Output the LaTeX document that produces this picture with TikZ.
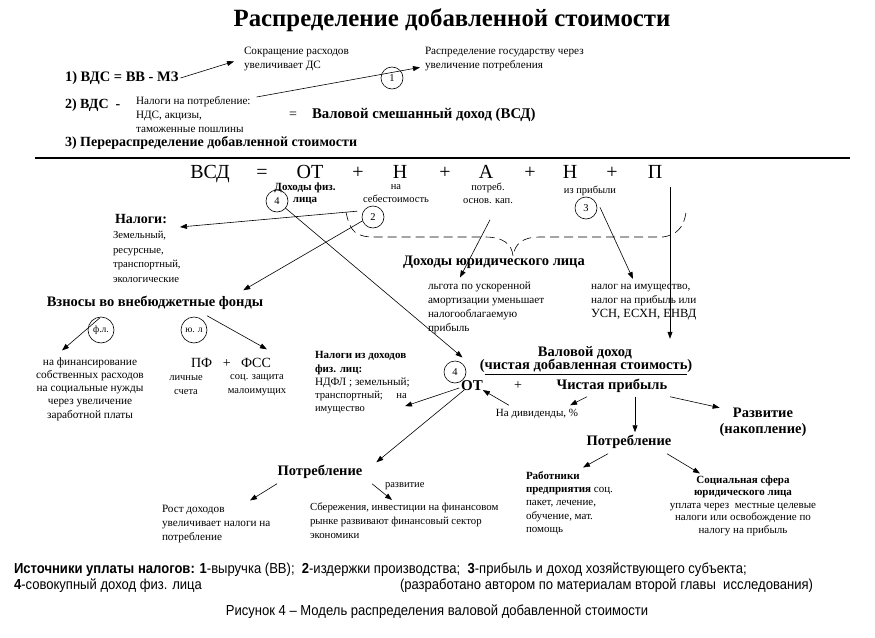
\documentclass[tikz,border=0pt]{standalone}
\usepackage{fontspec}
\setmainfont{Liberation Serif}
\newfontfamily\narrowsans[FakeStretch=0.9]{Liberation Sans}
\usetikzlibrary{arrows.meta}
\begin{document}
\begin{tikzpicture}[x=1pt,y=-1pt,
  every node/.style={inner sep=0pt, outer sep=0pt},
  arr/.style={-{Triangle[length=7pt,width=5pt]}, line width=0.6pt},
  ln/.style={line width=0.6pt},
  sm/.style={font=\fontsize{11.2}{14}\selectfont},
  smb/.style={font=\fontsize{11}{12.5}\selectfont\bfseries},
  bd/.style={font=\fontsize{14.5}{16}\selectfont\bfseries},
  big/.style={font=\fontsize{20}{22}\selectfont, anchor=base},
  circ/.style={draw, circle, line width=0.6pt, minimum size=22pt, font=\fontsize{10.5}{12}\selectfont},
  foot/.style={font=\fontsize{14.5}{16}\selectfont\narrowsans},
]
\useasboundingbox (0,0) rectangle (875,637);
\fill[white] (0,0) rectangle (875,637);

% title
\node[font=\fontsize{24.8}{28}\selectfont\bfseries] (title) at (452,20) {Распределение добавленной стоимости};

% top part
\node[sm, anchor=north west, align=left] (sokr) at (244,47.5) {Сокращение расходов\\увеличивает ДС};
\node[sm, anchor=north west, align=left] (raspr) at (425,47.5) {Распределение государству через\\увеличение потребления};
\node[font=\fontsize{14.5}{16}\selectfont\bfseries, anchor=west] (vds1) at (65,78) {1) ВДС = ВВ - МЗ};
\draw[arr] ([shift={(2,0)}]vds1.east) -- ([shift={(-10,2)}]sokr.west);
\node[circ] (c1) at (392,78) {1};
\node[font=\fontsize{14}{16}\selectfont\bfseries, anchor=west] (vds2) at (65,105) {2) ВДС \ -};
\node[sm, anchor=north west, align=left] (nalp) at (136,96) {Налоги на потребление:\\НДС, акцизы,\\таможенные пошлины};
\draw[ln, -{Triangle[length=7pt,width=5pt]}] ([shift={(6,1)}]nalp.north east) -- ([shift={(-5,8)}]raspr.west);
\node[font=\fontsize{14}{16}\selectfont] (eq1) at (293,115) {=};
\node[font=\fontsize{14.8}{16}\selectfont\bfseries, anchor=west] (vsd) at (312,115) {Валовой смешанный доход (ВСД)};
\node[font=\fontsize{14}{16}\selectfont\bfseries, anchor=west] (pere) at (65,143) {3) Перераспределение добавленной стоимости};
\coordinate (hl1) at (35,158);
\coordinate (hl2) at (850,158);
\draw[line width=1.2pt] (hl1) -- (hl2);

% formula row
\node[big] (vsdr) at (210,178.5) {ВСД};
\node[big] (eq2) at (262,178.5) {=};
\node[big] (OT) at (310,178.5) {ОТ};
\node[big] (pl1) at (358,178.5) {+};
\node[big] (N1) at (400,178.5) {Н};
\node[big] (pl2) at (445,178.5) {+};
\node[big] (A) at (486,178.5) {А};
\node[big] (pl3) at (530,178.5) {+};
\node[big] (N2) at (570,178.5) {Н};
\node[big] (pl4) at (612,178.5) {+};
\node[big] (P) at (655,178.5) {П};

\node[smb, align=center] (dfl) at (305,193.5) {Доходы физ.\\лица};
\node[align=center, font=\fontsize{10.5}{13}\selectfont] (nsebe) at (396,193.5) {на\\себестоимость};
\node[align=center, font=\fontsize{10.5}{13}\selectfont] (potreb) at (488,193.5) {потреб.\\основ. кап.};
\node[font=\fontsize{10.5}{13}\selectfont] (izpr) at (590,190.5) {из прибыли};
\node[circ] (c4a) at (277,201) {4};
\node[circ] (c2) at (373,217) {2};
\node[circ] (c3) at (586,208) {3};

% taxes
\node[font=\fontsize{14}{16}\selectfont\bfseries, anchor=west] (nalogi) at (115,219) {Налоги:};
\node[anchor=north west, align=left, font=\fontsize{10.7}{14.5}\selectfont] (nlist) at (113,231.5) {Земельный,\\ресурсные,\\транспортный,\\экологические};
\draw[arr] ([shift={(-5,-3)}]c2.165) -- ([shift={(13,8)}]nalogi.east);

\node[bd] (vzn) at (155,303) {Взносы во внебюджетные фонды};
\draw[arr] (c2.200) -- ([shift={(-20,-6)}]vzn.north east);

% dashed brace
\draw[ln, dash pattern=on 9pt off 5pt] (346,212) .. controls (350,232) and (356,237) .. (375,237) -- (485,237) .. controls (503,237) and (512,244) .. (513,256) .. controls (515,244) and (522,237) .. (540,237) -- (663,237) .. controls (676,235) and (684,228) .. (686,212);

\node[bd] (dul) at (494,262) {Доходы юридического лица};
\node[sm, anchor=north west, align=left] (lgota) at (428,281.5) {льгота по ускоренной\\амортизации уменьшает\\налогооблагаемую\\прибыль};
\node[sm, anchor=north west, align=left] (nalim) at (591,284) {налог на имущество,\\налог на прибыль или\\{\fontsize{12.5}{14}\selectfont УСН, ЕСХН, ЕНВД}};
\draw[arr] ([shift={(2,16)}]potreb.south) -- ([shift={(32,-4)}]lgota.north west);
\draw[arr] ([shift={(10,12)}]izpr.south) -- ([shift={(42,-5)}]nalim.north west);

% vertical from P
\node[bd, align=center] (vd) at (585,353) {Валовой доход};
\node[bd] (vd2) at (586,367) {(\underline{чистая добавленная стоимость})};
\draw[arr] ([shift={(15,8)}]P.south) -- ([shift={(85,-8)}]vd.north);

% funds
\node[circ, minimum size=26pt, font=\fontsize{9.5}{11}\selectfont] (cfl) at (101,330) {ф.л.};
\node[circ, minimum size=26pt, font=\fontsize{9.5}{11}\selectfont] (cyl) at (194,330) {ю. л};
\node[align=center, font=\fontsize{11.3}{13.2}\selectfont] (fin) at (90,389) {на финансирование\\собственных расходов\\на социальные нужды\\через увеличение\\заработной платы};
\draw[arr] ([shift={(-55,8)}]vzn.south) -- ([shift={(-28,-7)}]fin.north);
\node[font=\fontsize{14}{16}\selectfont] (pf) at (231,363) {ПФ \ \ + \ \ ФСС};
\node[align=center, font=\fontsize{10.5}{14}\selectfont] (lich) at (186,385) {личные\\счета};
\node[align=center, font=\fontsize{10.5}{14}\selectfont] (socz) at (257,385) {соц. защита\\малоимущих};
\draw[arr] ([shift={(52,6)}]vzn.south) -- ([shift={(-4,-9)}]pf.north east);

% ndfl
\node[anchor=north west, align=left, font=\fontsize{10.5}{13.3}\selectfont] (ndfl) at (315,351.5) {{\fontsize{11}{13}\selectfont\bfseries Налоги из доходов}\\{\fontsize{11}{13}\selectfont\bfseries физ. лиц:}\\{\fontsize{11.2}{13}\selectfont НДФЛ ; земельный;}\\{\fontsize{10.7}{13}\selectfont транспортный;\quad\ на}\\имущество};

% lower OT
\node[circ] (c4b) at (455,372) {4};
\draw[ln, -{Triangle[length=7pt,width=5pt]}] (c4a.-40) -- ([shift={(2,-5)}]c4b.60);
\node[font=\fontsize{15}{16}\selectfont\bfseries] (OT2) at (472,386) {ОТ};
\node[font=\fontsize{14}{16}\selectfont] (pl5) at (518,386) {+};
\node[bd] (chp) at (612,386) {Чистая прибыль};
\draw[arr] ([shift={(-2,2)}]OT2.west) -- ([shift={(90,-8)}]ndfl.south west);

\node[font=\fontsize{11}{12}\selectfont] (div) at (537,414) {На дивиденды, \%};
\draw[arr] ([shift={(-28,-4)}]div.north) -- ([shift={(0,-1)}]OT2.south east);
\draw[arr] ([shift={(-25,4)}]chp.south) -- ([shift={(-8,-4)}]div.north east);

% right side
\node[align=center, font=\fontsize{14.5}{16}\selectfont\bfseries] (razv) at (763,422) {Развитие\\(накопление)};
\node[bd] (potrR) at (629,442) {Потребление};
\draw[arr] ([shift={(23,4)}]chp.south) -- ([shift={(6,-3)}]potrR.north);
\draw[arr] ([shift={(58,4)}]chp.south) -- ([shift={(0,0)}]razv.north west);

\node[anchor=north west, align=left, font=\fontsize{11}{13.3}\selectfont] (rab) at (526,471.5) {\textbf{Работники}\\\textbf{предприятия} соц.\\пакет, лечение,\\обучение, мат.\\помощь};
\node[align=center, font=\fontsize{11}{12.5}\selectfont] (socs) at (743,505.5) {\textbf{Социальная сфера}\\\textbf{юридического лица}\\уплата через \ местные целевые\\налоги или освобождение по\\налогу на прибыль};
\draw[arr] ([shift={(-21,5)}]potrR.south) -- ([shift={(57,-4)}]rab.north west);
\draw[arr] ([shift={(38,5)}]potrR.south) -- ([shift={(-43,-2)}]socs.north);

% left consumption
\node[bd] (potrL) at (320,472) {Потребление};
\draw[arr] ([shift={(3,-1)}]OT2.south west) -- ([shift={(14,-3)}]potrL.north east);
\node[sm, anchor=north west, align=left] (rost) at (162,505.5) {Рост доходов\\увеличивает налоги на\\потребление};
\node[anchor=north west, align=left, font=\fontsize{10.8}{14}\selectfont] (sber) at (310,503) {Сбережения, инвестиции на финансовом\\рынке развивают финансовый сектор\\экономики};
\node[font=\fontsize{10.5}{12}\selectfont, anchor=west] (razvs) at (385,486) {развитие};
\draw[arr] ([shift={(-43,5)}]potrL.south) -- ([shift={(88,-5)}]rost.north west);
\draw[arr] ([shift={(52,5)}]potrL.south) -- ([shift={(82,-3)}]sber.north west);

% footer
\node[foot, anchor=west] (f1) at (14,570) {\textbf{Источники уплаты налогов:} \textbf{1}-выручка (ВВ); \ \textbf{2}-издержки производства; \ \textbf{3}-прибыль и доход хозяйствующего субъекта;};
\node[foot, anchor=west] (f2) at (14,586) {\textbf{4}-совокупный доход физ. лица};
\node[foot, anchor=west] (f3) at (400,586) {(разработано автором по материалам второй главы \ исследования)};
\node[foot] (cap) at (437,612) {Рисунок 4 – Модель распределения валовой добавленной стоимости};
\end{tikzpicture}
\end{document}
